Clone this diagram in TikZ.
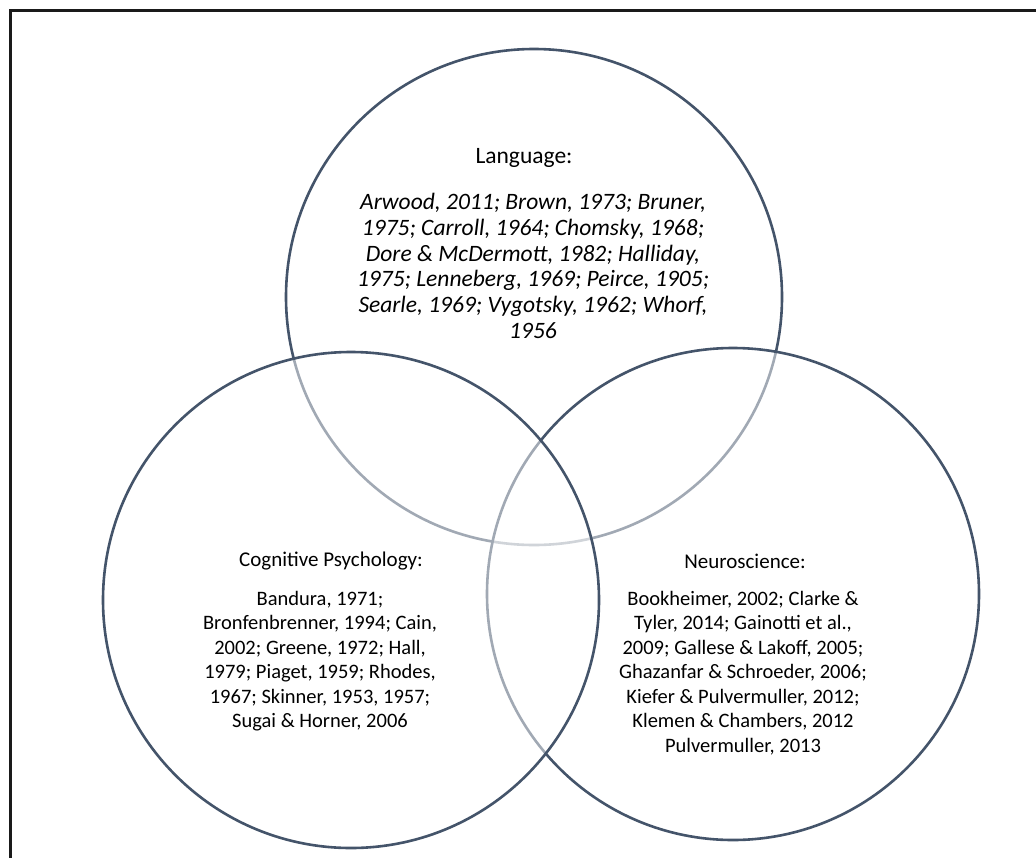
\documentclass[tikz,border=0pt]{standalone}
\usepackage{fontspec}
\setmainfont{Carlito}
\definecolor{ring}{HTML}{44546A}
\definecolor{frameink}{HTML}{1A1A1A}
\begin{document}
\begin{tikzpicture}[x=1pt,y=-1pt,
  ring/.style={draw=ring,line width=2.6pt,fill=white,fill opacity=0.5},
  heading/.style={font=\fontsize{21}{24.5}\selectfont,inner sep=0pt,align=center},
  refs/.style={font=\fontsize{20.5}{24.5}\selectfont,inner sep=0pt,align=center},
  bigrefs/.style={font=\fontsize{23.5}{25.8}\selectfont\itshape,inner sep=0pt,align=center}]
% page area and outer frame (open to the right and bottom)
\clip (0,0) rectangle (1036,857);
\fill[white] (0,0) rectangle (1036,857);
\draw[frameink,line width=3pt] (10.5,880) -- (10.5,10) -- (1060,10);

% the three overlapping fields
\draw[ring] (534,297) circle (248);
\draw[ring] (733,594) circle (246);
\draw[ring] (351,600) circle (248);

% Language
\node[heading,font=\fontsize{23.5}{25.8}\selectfont] (langT) at (524,158) {Language:};
\node[bigrefs] (langR) at (533,266)
  {Arwood, 2011; Brown, 1973; Bruner,\\
   1975; Carroll, 1964; Chomsky, 1968;\\
   Dore \& McDermott, 1982; Halliday,\\
   1975; Lenneberg, 1969; Peirce, 1905;\\
   Searle, 1969; Vygotsky, 1962; Whorf,\\
   1956};

% Cognitive Psychology
\node[heading] (cogT) at (331,561) {Cognitive Psychology:};
\node[refs] (cogR) at (320,661)
  {Bandura, 1971;\\
   Bronfenbrenner, 1994; Cain,\\
   2002; Greene, 1972; Hall,\\
   1979; Piaget, 1959; Rhodes,\\
   1967; Skinner, 1953, 1957;\\
   Sugai \& Horner, 2006};

% Neuroscience
\node[heading] (neuT) at (745,561) {Neuroscience:};
\node[refs] (neuR) at (743,673)
  {Bookheimer, 2002; Clarke \&\\
   Tyler, 2014; Gainotti et al.,\\
   2009; Gallese \& Lakoff, 2005;\\
   Ghazanfar \& Schroeder, 2006;\\
   Kiefer \& Pulvermuller, 2012;\\
   Klemen \& Chambers, 2012\\
   Pulvermuller, 2013};
\end{tikzpicture}
\end{document}
